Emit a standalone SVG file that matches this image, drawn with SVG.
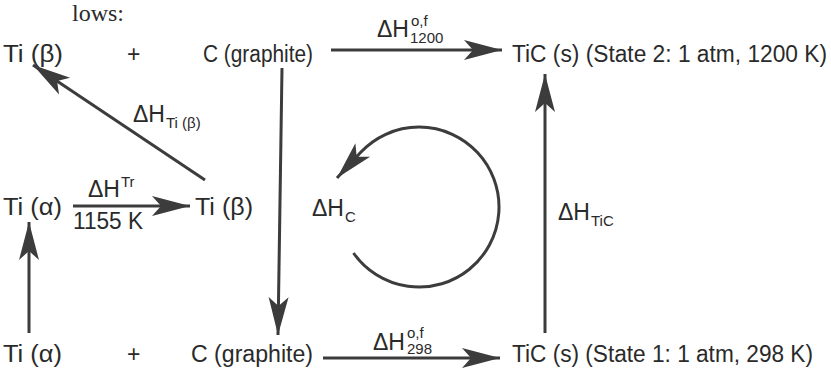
<svg xmlns="http://www.w3.org/2000/svg" width="831" height="375" viewBox="0 0 831 375">
<style>
.t{font-family:"Liberation Sans",Arial,sans-serif;font-size:23px;fill:#2a2a2a}
.l{font-family:"Liberation Sans",Arial,sans-serif;font-size:23px;fill:#2a2a2a}
.s{font-family:"Liberation Sans",Arial,sans-serif;font-size:15px;fill:#2a2a2a}
.c{fill:none;stroke:#3c3c3c;stroke-width:3}
</style>
<defs>
<marker id="ah" markerUnits="userSpaceOnUse" markerWidth="40" markerHeight="24" refX="38" refY="11" orient="auto">
<path d="M0,1 L38,11 L0,21 L9,11 Z" fill="#3c3c3c"/>
</marker>
</defs>
<rect width="831" height="375" fill="#ffffff"/>
<text x="72" y="21" style="font-family:'Liberation Serif','Times New Roman',serif;font-size:24px;fill:#2a2a2a">lows:</text>

<g id="ti-beta-top"><text class="t" x="3" y="62" textLength="60" lengthAdjust="spacingAndGlyphs">Ti (β)</text></g>
<g id="plus-top"><text class="t" x="127" y="62">+</text></g>
<g id="c-graphite-top"><text class="t" x="203" y="62" textLength="110" lengthAdjust="spacingAndGlyphs">C (graphite)</text></g>
<g id="tic-state2"><text class="t" x="512" y="62" textLength="315" lengthAdjust="spacingAndGlyphs">TiC (s)  (State 2: 1 atm, 1200 K)</text></g>

<g id="ti-alpha-mid"><text class="t" x="3" y="215" textLength="59" lengthAdjust="spacingAndGlyphs">Ti (α)</text></g>
<g id="ti-beta-mid"><text class="t" x="195" y="215" textLength="58" lengthAdjust="spacingAndGlyphs">Ti (β)</text></g>

<g id="ti-alpha-bot"><text class="t" x="3" y="362" textLength="59" lengthAdjust="spacingAndGlyphs">Ti (α)</text></g>
<g id="plus-bot"><text class="t" x="127" y="362">+</text></g>
<g id="c-graphite-bot"><text class="t" x="191" y="362" textLength="122" lengthAdjust="spacingAndGlyphs">C (graphite)</text></g>
<g id="tic-state1"><text class="t" x="512" y="362" textLength="301" lengthAdjust="spacingAndGlyphs">TiC (s)  (State 1: 1 atm, 298 K)</text></g>

<g id="connectors">
<line class="c" x1="331" y1="50" x2="502" y2="50" marker-end="url(#ah)"/>
<line class="c" x1="323" y1="358" x2="500" y2="358" marker-end="url(#ah)"/>
<line class="c" x1="205" y1="180" x2="33" y2="65" marker-end="url(#ah)"/>
<line class="c" x1="73" y1="206" x2="190" y2="206" marker-end="url(#ah)"/>
<line class="c" x1="282" y1="68" x2="278" y2="335" marker-end="url(#ah)"/>
<line class="c" x1="29" y1="333" x2="29" y2="222" marker-end="url(#ah)"/>
<line class="c" x1="545" y1="333" x2="545" y2="74" marker-end="url(#ah)"/>
<path class="c" d="M353.5,253 A80,80 0 1 0 360.5,152.5 L337,178" marker-end="url(#ah)"/>
</g>

<g id="labels">
<text class="l" x="377" y="37">ΔH</text>
<text class="s" x="411" y="26">o,f</text>
<text class="s" x="410" y="43">1200</text>

<text class="l" x="373" y="350">ΔH</text>
<text class="s" x="407" y="338">o,f</text>
<text class="s" x="407" y="354">298</text>

<text class="l" x="133" y="122">ΔH</text>
<text class="s" x="166" y="128">Ti (β)</text>

<text class="l" x="88" y="197">ΔH</text>
<text class="s" x="121" y="187">Tr</text>
<text class="t" x="73" y="229" textLength="70" lengthAdjust="spacingAndGlyphs">1155 K</text>

<text class="l" x="312" y="216">ΔH</text>
<text class="s" x="345" y="222">C</text>

<text class="l" x="558" y="220">ΔH</text>
<text class="s" x="591" y="226">TiC</text>
</g>
</svg>
